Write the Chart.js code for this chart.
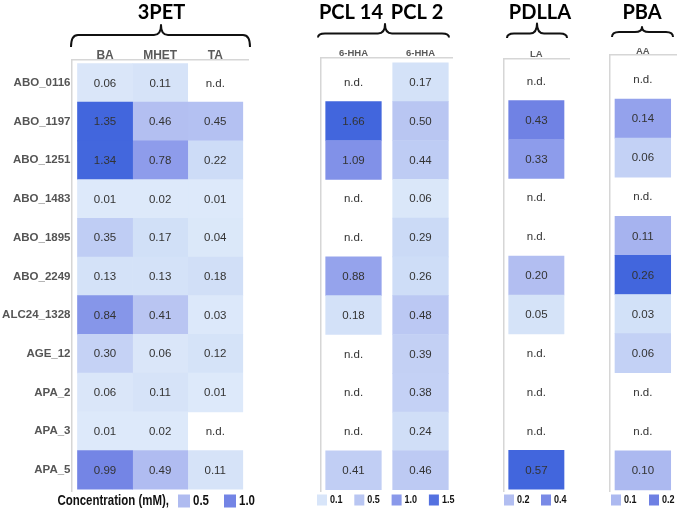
<!DOCTYPE html>
<html><head><meta charset="utf-8">
<script src="https://cdn.jsdelivr.net/npm/chart.js@4.4.1/dist/chart.umd.min.js"></script>
<style>
html,body{margin:0;padding:0;background:#fff;}
#wrap{position:relative;width:677px;height:511px;overflow:hidden;background:#fff;}
#wrap canvas{position:absolute;left:0;top:0;}
</style></head><body>
<div id="wrap">
<canvas id="c1" width="677" height="511"></canvas>
<canvas id="c2" width="677" height="511"></canvas>
<canvas id="c3" width="677" height="511"></canvas>
<canvas id="c4" width="677" height="511"></canvas>
</div>
<script>
// ---------- DATA ----------
const rowLabels = ['ABO_0116','ABO_1197','ABO_1251','ABO_1483','ABO_1895','ABO_2249','ALC24_1328','AGE_12','APA_2','APA_3','APA_5'];
const pet3Columns = ['BA','MHET','TA'];
const pet3BA   = [0.06,1.35,1.34,0.01,0.35,0.13,0.84,0.30,0.06,0.01,0.99];
const pet3MHET = [0.11,0.46,0.78,0.02,0.17,0.13,0.41,0.06,0.11,0.02,0.49];
const pet3TA   = [null,0.45,0.22,0.01,0.04,0.18,0.03,0.12,0.01,null,0.11];
const pclColumns = ['6-HHA','6-HHA'];
const pcl14HHA = [null,1.66,1.09,null,null,0.88,0.18,null,null,null,0.41];
const pcl2HHA  = [0.17,0.50,0.44,0.06,0.29,0.26,0.48,0.39,0.38,0.24,0.46];
const pdllaColumns = ['LA'];
const pdllaLA  = [null,0.43,0.33,null,null,0.20,0.05,null,null,null,0.57];
const pbaColumns = ['AA'];
const pbaAA    = [null,0.14,0.06,null,0.11,0.26,0.03,0.06,null,null,0.10];
const legend3PET  = [0.5,1.0];
const legendPCL   = [0.1,0.5,1.0,1.5];
const legendPDLLA = [0.2,0.4];
const legendPBA   = [0.1,0.2];
const legendTitle = 'Concentration (mM),';
const notDetected = 'n.d.';

// ---------- STYLE ----------
const rampStops = [[0,[222,234,250]],[0.15,[207,222,247]],[0.35,[178,190,241]],[0.6,[138,153,234]],[0.78,[108,126,227]],[1,[66,102,221]]];
function rampColor(t){
  t = Math.max(0, Math.min(1, t));
  for (let k = 1; k < rampStops.length; k++) {
    const [t1, c1] = rampStops[k], [t0, c0] = rampStops[k-1];
    if (t <= t1) {
      const f = (t - t0) / (t1 - t0);
      const c = c0.map((v, i) => Math.round(v + (c1[i] - v) * f));
      return `rgb(${c[0]},${c[1]},${c[2]})`;
    }
  }
  return 'rgb(66,102,221)';
}
const FONT = "'Liberation Sans', Arial, sans-serif";
const TITLE_FONT = "Lato, 'Liberation Sans', sans-serif";
const frameColor = '#d6d6d6';

const panels = [
  { id:'c1', cols:[{label:pet3Columns[0],values:pet3BA},{label:pet3Columns[1],values:pet3MHET},{label:pet3Columns[2],values:pet3TA}],
    titles:[{text:'3PET', x:161.5}], brace:{x0:71,x1:250,xc:161,yEnd:47,yMid:35,yPeak:25},
    frame:{left:72, top:60, right:248, bottom:491}, cell:{left:77.5, width:55.1, gap:0, top:63.5, height:38.7},
    rowTicks:true, colFont:12, colPad:-1.5,
    legend:{values:legend3PET, prefix:legendTitle, x:178, step:46, box:12, font:14, y:501, prefixRight:169} },
  { id:'c2', cols:[{label:pclColumns[0],values:pcl14HHA},{label:pclColumns[1],values:pcl2HHA}],
    titles:[{text:'PCL 14', x:351},{text:'PCL 2', x:417}], brace:{x0:318,x1:449,xc:385,yEnd:37.5,yMid:33.5,yPeak:24},
    frame:{left:320.7, top:57.3, right:453, bottom:491}, cell:{left:325.7, width:55.6, gap:11.4, top:62.9, height:38.8},
    rowTicks:false, colFont:9.5, colPad:-0.8,
    legend:{values:legendPCL, x:317, step:37.3, box:10, font:11, y:500} },
  { id:'c3', cols:[{label:pdllaColumns[0],values:pdllaLA}],
    titles:[{text:'PDLLA', x:540}], brace:{x0:507,x1:567,xc:537,yEnd:38,yMid:33.5,yPeak:23.5},
    frame:{left:503.3, top:58.3, right:569.3, bottom:491}, cell:{left:508.7, width:55.3, gap:0, top:61.8, height:38.86},
    rowTicks:false, colFont:9.5, colPad:-0.8,
    legend:{values:legendPDLLA, x:504, step:37, box:10, font:11, y:500} },
  { id:'c4', cols:[{label:pbaColumns[0],values:pbaAA}],
    titles:[{text:'PBA', x:642}], brace:{x0:612,x1:673,xc:642,yEnd:37,yMid:32,yPeak:27},
    frame:{left:609.3, top:55, right:677, bottom:491.5}, cell:{left:615, width:55.7, gap:0, top:59.9, height:39.1},
    rowTicks:false, colFont:9.5, colPad:-0.8,
    legend:{values:legendPBA, x:611, step:38, box:10, font:11, y:500} }
];

function drawBrace(ctx, b){
  const r = Math.min(7, b.yEnd - b.yMid + 3);
  ctx.save();
  ctx.strokeStyle = '#111'; ctx.lineWidth = 2; ctx.lineJoin = 'round';
  ctx.beginPath();
  ctx.moveTo(b.x0, b.yEnd);
  ctx.quadraticCurveTo(b.x0, b.yMid, b.x0 + r, b.yMid);
  ctx.lineTo(b.xc - r, b.yMid);
  ctx.quadraticCurveTo(b.xc, b.yMid, b.xc, b.yPeak);
  ctx.quadraticCurveTo(b.xc, b.yMid, b.xc + r, b.yMid);
  ctx.lineTo(b.x1 - r, b.yMid);
  ctx.quadraticCurveTo(b.x1, b.yMid, b.x1, b.yEnd);
  ctx.stroke();
  ctx.restore();
}

// draw narrow (condensed) bold text by horizontal scaling
function narrowText(ctx, text, x, y, size, align){
  const sx = 0.82;
  ctx.save();
  ctx.font = 'bold ' + size + 'px ' + FONT;
  ctx.textAlign = align; ctx.textBaseline = 'middle';
  ctx.translate(x, y);
  ctx.scale(sx, 1);
  ctx.fillText(text, 0, 0);
  ctx.restore();
  return ctx.measureText ? null : null;
}

function buildPanel(p){
  const W = 677, H = 511;
  const gapU = p.cell.gap / p.cell.width;
  const colStart = p.cols.map((c, j) => j * (1 + gapU));
  const maxVal = Math.max(...p.cols.flatMap(c => c.values.filter(v => v != null)));
  const xMin = -(p.cell.left - p.frame.left) / p.cell.width;
  const xMax = (p.frame.right - p.cell.left) / p.cell.width;
  const yMin = -0.5 - (p.cell.top - p.frame.top) / p.cell.height;
  const yMax = yMin + (p.frame.bottom - p.frame.top) / p.cell.height;
  const yAxisW = p.rowTicks ? p.frame.left : 0;
  const xAxisH = 14;

  const datasets = p.cols.map((c, j) => ({
    label: c.label,
    data: c.values.map((v, i) => v == null ? null : {y: i, x: [colStart[j], colStart[j] + 1], v: v}).filter(d => d),
    backgroundColor: (ctx) => ctx.raw ? rampColor(ctx.raw.v / maxVal) : 'transparent',
    borderWidth: 0,
    grouped: false,
    barPercentage: 1,
    categoryPercentage: 1
  }));

  const overlay = {
    id: 'overlay' + p.id,
    afterDatasetsDraw(chart){
      const ctx = chart.ctx, xs = chart.scales.x, ys = chart.scales.y;
      ctx.save();
      ctx.fillStyle = '#333';
      ctx.font = '11.5px ' + FONT;
      ctx.textAlign = 'center'; ctx.textBaseline = 'middle';
      p.cols.forEach((c, j) => {
        const xc = xs.getPixelForValue(colStart[j] + 0.5);
        c.values.forEach((v, i) => {
          const yc = ys.getPixelForValue(i);
          ctx.fillText(v == null ? notDetected : v.toFixed(2), xc, yc + 0.5);
        });
      });
      ctx.restore();
    },
    afterDraw(chart){
      const ctx = chart.ctx;
      ctx.save();
      ctx.fillStyle = '#000';
      ctx.font = 'bold 20px ' + TITLE_FONT;
      ctx.textAlign = 'center'; ctx.textBaseline = 'middle';
      p.titles.forEach(t => ctx.fillText(t.text, t.x, 13));
      drawBrace(ctx, p.brace);
      const L = p.legend;
      ctx.fillStyle = '#111';
      if (L.prefix) narrowText(ctx, L.prefix, L.prefixRight, L.y, L.font, 'right');
      L.values.forEach((v, k) => {
        const x = L.x + k * L.step;
        ctx.fillStyle = rampColor(v / maxVal);
        ctx.fillRect(x, L.y - L.box / 2 - 0.5, L.box, L.box + 1);
        ctx.fillStyle = '#111';
        narrowText(ctx, v.toFixed(1), x + L.box + 3, L.y, L.font, 'left');
      });
      ctx.restore();
    }
  };

  return new Chart(document.getElementById(p.id), {
    type: 'bar',
    data: { datasets },
    options: {
      indexAxis: 'y',
      responsive: false,
      devicePixelRatio: 1,
      animation: false,
      events: [],
      layout: { padding: { left: p.frame.left - yAxisW, right: W - p.frame.right, top: p.frame.top - xAxisH, bottom: H - p.frame.bottom } },
      plugins: { legend: { display: false }, title: { display: false }, tooltip: { enabled: false } },
      scales: {
        x: {
          type: 'linear', position: 'top', min: xMin, max: xMax, offset: false,
          grid: { display: false, drawTicks: false },
          border: { display: true, color: frameColor, width: 1.5 },
          afterBuildTicks: (s) => { s.ticks = p.cols.map((c, j) => ({ value: colStart[j] + 0.5 })); },
          afterFit: (s) => { s.height = xAxisH; },
          ticks: {
            autoSkip: false, maxRotation: 0, padding: p.colPad,
            color: '#5a5a5a',
            font: { family: FONT, weight: 'bold', size: p.colFont, lineHeight: 1 },
            callback: (val, idx) => p.cols[idx] ? p.cols[idx].label : ''
          }
        },
        y: {
          type: 'linear', position: 'left', reverse: true, min: yMin, max: yMax, offset: false,
          grid: { display: false, drawTicks: false },
          border: { display: true, color: frameColor, width: 1.5 },
          afterBuildTicks: (s) => { s.ticks = rowLabels.map((r, i) => ({ value: i })); },
          afterFit: (s) => { s.width = yAxisW; },
          ticks: {
            display: p.rowTicks, autoSkip: false, padding: 1.5,
            color: '#555',
            font: { family: FONT, weight: 'bold', size: 11.5, lineHeight: 1 },
            callback: (val, idx) => rowLabels[idx]
          }
        }
      }
    },
    plugins: [overlay]
  });
}

panels.forEach(buildPanel);
</script>
</body></html>
